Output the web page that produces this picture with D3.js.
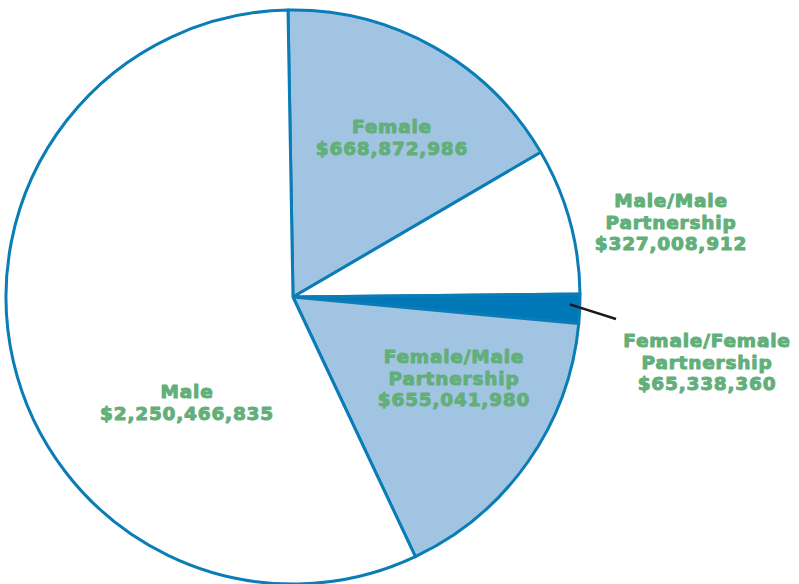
<!DOCTYPE html>
<html>
<head>
<meta charset="utf-8">
<script src="https://cdn.jsdelivr.net/npm/d3@7/dist/d3.min.js"></script>
<style>
html,body{margin:0;padding:0;background:#fff;}
svg{display:block;}
</style>
</head>
<body>
<svg id="chart" width="799" height="584"></svg>
<script>
const categories = ["Female", "Male/Male Partnership", "Female/Female Partnership", "Female/Male Partnership", "Male"];
const values = [668872986, 327008912, 65338360, 655041980, 2250466835];
const labelLines = [
  ["Female", "$668,872,986"],
  ["Male/Male", "Partnership", "$327,008,912"],
  ["Female/Female", "Partnership", "$65,338,360"],
  ["Female/Male", "Partnership", "$655,041,980"],
  ["Male", "$2,250,466,835"]
];

// layout / style (not data)
const fills = ["#a2c4e3", "#ffffff", "#0077b6", "#a2c4e3", "#ffffff"];
const labelPos = [[392, 133], [671, 207], [707, 347], [454, 363], [187, 398]];
const cx = 293, cy = 297, R = 287;
const startDeg = -1;

const svg = d3.select("#chart");
const g = svg.append("g").attr("transform", `translate(${cx},${cy})`);

const data = categories.map((c, i) => ({name: c, value: values[i], i}));
const pie = d3.pie().sort(null).value(d => d.value)
  .startAngle(startDeg * Math.PI / 180)
  .endAngle(startDeg * Math.PI / 180 + 2 * Math.PI);
const arcs = pie(data);
const arc = d3.arc().innerRadius(0).outerRadius(R);

g.selectAll("path.slice").data(arcs).join("path")
  .attr("class", "slice")
  .attr("d", arc)
  .attr("fill", d => fills[d.data.i])
  .attr("stroke", "#0a7db6")
  .attr("stroke-width", 3)
  .attr("stroke-linejoin", "round");

// leader line for the small slice
const ff = arcs[2];
const mid = (ff.startAngle + ff.endAngle) / 2;
const r0 = R - 10;
svg.append("line")
  .attr("x1", cx + r0 * Math.sin(mid))
  .attr("y1", cy - r0 * Math.cos(mid) - 4)
  .attr("x2", 616).attr("y2", 319)
  .attr("stroke", "#1a1a1a").attr("stroke-width", 2.5);

// labels
const lab = svg.append("g")
  .attr("font-family", "'DejaVu Sans', sans-serif")
  .attr("font-weight", "bold")
  .attr("font-size", 18.5)
  .attr("letter-spacing", 0.8)
  .attr("fill", "#62af7a")
  .attr("stroke", "#62af7a")
  .attr("stroke-width", 1.0)
  .attr("stroke-linejoin", "round")
  .attr("text-anchor", "middle");

labelLines.forEach((lines, i) => {
  const t = lab.append("text")
    .attr("x", labelPos[i][0]).attr("y", labelPos[i][1]);
  lines.forEach((ln, j) => {
    t.append("tspan").attr("x", labelPos[i][0]).attr("dy", j === 0 ? 0 : 21.5).text(ln);
  });
});
</script>
</body>
</html>
